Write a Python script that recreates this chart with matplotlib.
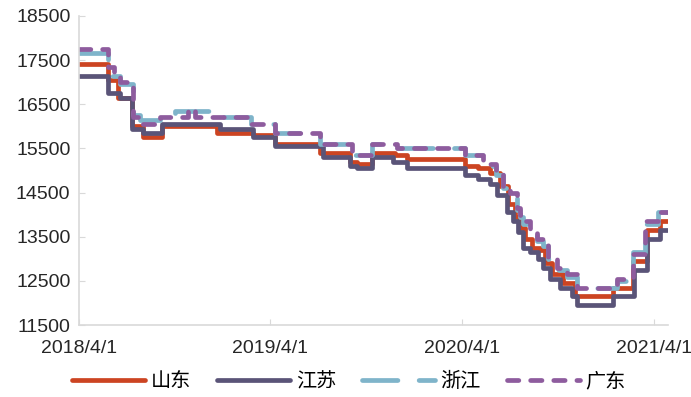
import matplotlib.pyplot as plt
import pandas as pd

plt.rcParams['font.family'] = ['Liberation Sans', 'Noto Sans CJK SC', 'DejaVu Sans']

# step-series data: (change date, price from that date on)
sd_dates = ['2018-04-01', '2018-05-26', '2018-06-14', '2018-07-11', '2018-08-01', '2018-09-06',
            '2018-12-20', '2019-02-26', '2019-04-10', '2019-07-04', '2019-08-31', '2019-09-13',
            '2019-10-11', '2019-11-24', '2019-12-17', '2020-04-06', '2020-04-30', '2020-05-23',
            '2020-06-11', '2020-06-27', '2020-07-10', '2020-07-19', '2020-07-29', '2020-08-11',
            '2020-08-27', '2020-09-05', '2020-09-19', '2020-10-09', '2020-11-01', '2021-01-13',
            '2021-02-20', '2021-03-19', '2021-04-12', '2021-04-28']
sd_vals = [17400, 17050, 16650, 16000, 15750, 16000,
           15850, 15800, 15600, 15400, 15200, 15150,
           15400, 15350, 15250, 15100, 15050, 14950,
           14650, 14250, 13950, 13700, 13450, 13250,
           13200, 12900, 12650, 12450, 12150, 12350,
           12950, 13650, 13850, 13850]

js_dates = ['2018-04-01', '2018-05-26', '2018-06-18', '2018-07-11', '2018-08-01', '2018-09-06',
            '2018-12-26', '2019-02-26', '2019-04-10', '2019-07-10', '2019-08-31', '2019-09-13',
            '2019-10-11', '2019-11-20', '2019-12-17', '2020-04-06', '2020-04-30', '2020-05-23',
            '2020-06-06', '2020-06-25', '2020-07-06', '2020-07-16', '2020-07-25', '2020-08-08',
            '2020-08-23', '2020-09-01', '2020-09-15', '2020-10-04', '2020-10-27', '2020-11-05',
            '2021-01-13', '2021-02-22', '2021-03-19', '2021-04-12', '2021-04-28']
js_vals = [17150, 16750, 16650, 15950, 15850, 16050,
           15950, 15750, 15550, 15300, 15100, 15050,
           15300, 15200, 15050, 14900, 14800, 14700,
           14450, 14050, 13850, 13600, 13250, 13150,
           13000, 12800, 12550, 12350, 12150, 11950,
           12150, 12750, 13450, 13650, 13650]

zj_dates = ['2018-04-01', '2018-05-26', '2018-06-18', '2018-07-13', '2018-07-26', '2018-09-02',
            '2018-10-01', '2018-12-16', '2019-02-24', '2019-04-10', '2019-07-04', '2019-09-03',
            '2019-10-11', '2019-11-28', '2020-04-06', '2020-05-10', '2020-06-04', '2020-06-17',
            '2020-06-30', '2020-07-14', '2020-07-20', '2020-07-25', '2020-08-08', '2020-08-21',
            '2020-09-01', '2020-09-11', '2020-09-28', '2020-10-17', '2020-11-05', '2021-01-20',
            '2021-02-20', '2021-03-15', '2021-04-09', '2021-04-28']
zj_vals = [17650, 17150, 16950, 16250, 16150, 16250,
           16350, 16200, 16050, 15850, 15600, 15350,
           15600, 15500, 15350, 15100, 14900, 14600,
           14450, 14100, 13950, 13800, 13550, 13400,
           13300, 13000, 12750, 12600, 12350, 12500,
           13150, 13800, 14050, 14050]

gd_dates = ['2018-04-01', '2018-05-26', '2018-06-08', '2018-06-18', '2018-07-13', '2018-07-26',
            '2018-09-02', '2018-10-26', '2018-11-08', '2019-02-24', '2019-04-10', '2019-07-04',
            '2019-09-03', '2019-10-11', '2019-11-28', '2020-04-06', '2020-05-10', '2020-06-04',
            '2020-06-17', '2020-06-30', '2020-07-14', '2020-07-20', '2020-07-25', '2020-08-08',
            '2020-08-21', '2020-09-01', '2020-09-11', '2020-09-28', '2020-10-17', '2020-11-05',
            '2021-01-20', '2021-02-20', '2021-03-15', '2021-04-09', '2021-04-28']
gd_vals = [17750, 17350, 17200, 17000, 16200, 16050,
           16200, 16400, 16200, 16050, 15850, 15600,
           15350, 15600, 15500, 15350, 15150, 14950,
           14650, 14500, 14150, 14000, 13850, 13600,
           13450, 13350, 13050, 12800, 12650, 12350,
           12550, 13100, 13850, 14050, 14050]

series = [
    ('山东', sd_dates, sd_vals, '#CC4422', '-', None),
    ('江苏', js_dates, js_vals, '#5A5478', '-', None),
    ('浙江', zj_dates, zj_vals, '#7FB4CA', '--', (7.5, 4.5)),
    ('广东', gd_dates, gd_vals, '#8E5C9E', '--', (2.4, 2.5)),
]

fig = plt.figure(figsize=(6.91, 3.97), dpi=100)
ax = fig.add_axes([0.114, 0.181, 0.853, 0.779])

for name, d, v, c, ls, dash in series:
    line, = ax.plot(pd.to_datetime(d), v, drawstyle='steps-post', color=c,
                    linewidth=3.4, linestyle=ls, label=name,
                    solid_capstyle='round', dash_capstyle='round')
    if dash:
        line.set_dashes(dash)

ax.set_ylim(11500, 18500)
ax.set_yticks(range(11500, 18501, 1000))
ax.set_xlim(pd.Timestamp('2018-04-01'), pd.Timestamp('2021-04-28'))
xt = pd.to_datetime(['2018-04-01', '2019-04-01', '2020-04-01', '2021-04-01'])
ax.set_xticks(xt)
ax.set_xticklabels(['2018/4/1', '2019/4/1', '2020/4/1', '2021/4/1'])

for s in ['top', 'right']:
    ax.spines[s].set_visible(False)
for s in ['left', 'bottom']:
    ax.spines[s].set_color('#D9D9D9')
    ax.spines[s].set_linewidth(1.2)
ax.tick_params(axis='both', direction='in', length=4, color='#D9D9D9',
               labelsize=14, labelcolor='#262626')
ax.tick_params(axis='y', pad=6)
ax.tick_params(axis='x', pad=11)

fig.legend(loc='center', bbox_to_anchor=(0.505, 0.038), ncol=4, frameon=False,
           fontsize=14.5, handlelength=3.6, columnspacing=1.3, handletextpad=0.3)

plt.savefig('out.png', dpi=100)
